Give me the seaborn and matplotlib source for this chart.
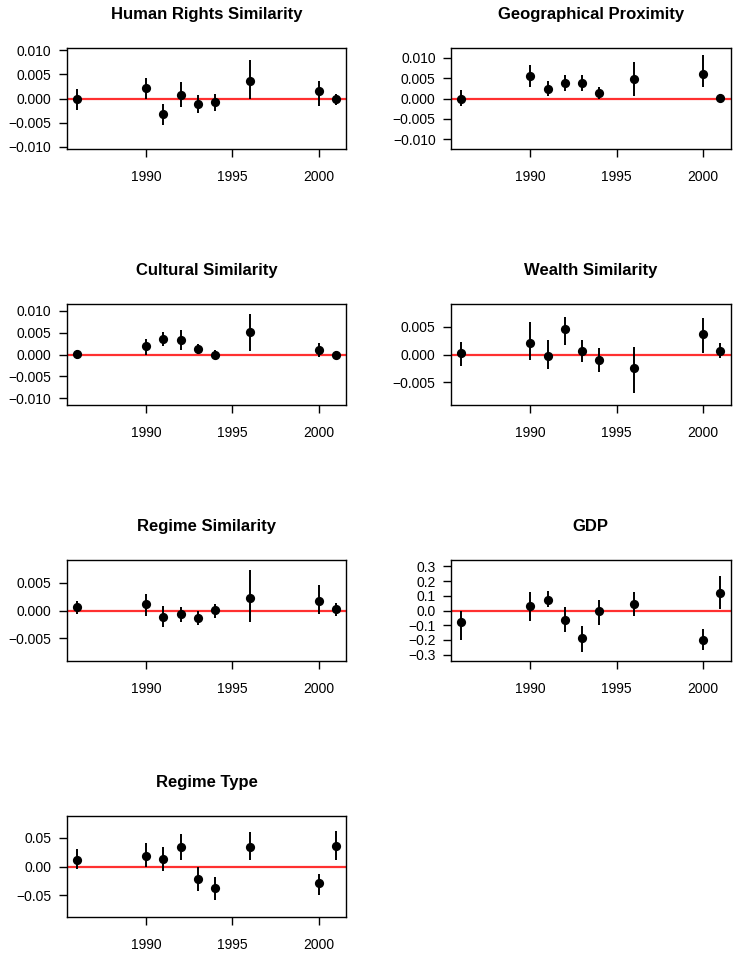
import matplotlib
matplotlib.use("Agg")
import matplotlib.pyplot as plt
import seaborn as sns
import numpy as np
import pandas as pd

years = [1986, 1990, 1991, 1992, 1993, 1994, 1996, 2000, 2001]

titles = ["Human Rights Similarity", "Geographical Proximity", "Cultural Similarity",
          "Wealth Similarity", "Regime Similarity", "GDP", "Regime Type"]

hr_est = [0.0000, 0.0022, -0.0033, 0.0008, -0.0012, -0.0008, 0.0036, 0.0015, -0.0002]
hr_hi = [0.0019, 0.0043, -0.0012, 0.0034, 0.0008, 0.0010, 0.0081, 0.0036, 0.0010]
hr_lo = [-0.0023, 0.0000, -0.0056, -0.0018, -0.0031, -0.0026, -0.0002, -0.0015, -0.0014]

geo_est = [-0.0001, 0.0055, 0.0024, 0.0039, 0.0039, 0.0014, 0.0049, 0.0059, 0.0002]
geo_hi = [0.0020, 0.0082, 0.0044, 0.0057, 0.0058, 0.0029, 0.0090, 0.0106, 0.0010]
geo_lo = [-0.0019, 0.0028, 0.0006, 0.0018, 0.0018, 0.0000, 0.0006, 0.0029, -0.0005]

cul_est = [0.0002, 0.0019, 0.0035, 0.0033, 0.0013, 0.0000, 0.0052, 0.0010, -0.0001]
cul_hi = [0.0011, 0.0035, 0.0052, 0.0056, 0.0024, 0.0011, 0.0093, 0.0026, 0.0009]
cul_lo = [-0.0010, 0.0000, 0.0019, 0.0010, 0.0002, -0.0010, 0.0007, -0.0005, -0.0009]

wea_est = [0.0002, 0.0021, -0.0002, 0.0046, 0.0007, -0.0010, -0.0024, 0.0037, 0.0007]
wea_hi = [0.0023, 0.0059, 0.0026, 0.0068, 0.0027, 0.0012, 0.0013, 0.0066, 0.0021]
wea_lo = [-0.0020, -0.0010, -0.0027, 0.0018, -0.0013, -0.0032, -0.0069, 0.0002, -0.0007]

reg_est = [0.0006, 0.0011, -0.0011, -0.0007, -0.0014, 0.0001, 0.0022, 0.0018, 0.0003]
reg_hi = [0.0017, 0.0030, 0.0008, 0.0007, -0.0001, 0.0012, 0.0073, 0.0046, 0.0013]
reg_lo = [-0.0007, -0.0010, -0.0030, -0.0020, -0.0027, -0.0013, -0.0020, -0.0007, -0.0010]

gdp_est = [-0.080, 0.030, 0.073, -0.064, -0.186, -0.005, 0.043, -0.200, 0.116]
gdp_hi = [0.000, 0.123, 0.134, 0.027, -0.105, 0.073, 0.123, -0.125, 0.232]
gdp_lo = [-0.200, -0.068, 0.023, -0.148, -0.280, -0.098, -0.034, -0.268, 0.009]

rt_est = [0.011, 0.018, 0.0135, 0.033, -0.021, -0.038, 0.034, -0.029, 0.035]
rt_hi = [0.031, 0.040, 0.034, 0.056, 0.000, -0.018, 0.059, -0.013, 0.062]
rt_lo = [-0.005, 0.000, -0.008, 0.011, -0.042, -0.058, 0.012, -0.049, 0.011]

ests = [hr_est, geo_est, cul_est, wea_est, reg_est, gdp_est, rt_est]
his = [hr_hi, geo_hi, cul_hi, wea_hi, reg_hi, gdp_hi, rt_hi]
los = [hr_lo, geo_lo, cul_lo, wea_lo, reg_lo, gdp_lo, rt_lo]

ylims = [0.0105, 0.0124, 0.0116, 0.0091, 0.0091, 0.343, 0.0875]
yticks = [[-0.010, -0.005, 0.0, 0.005, 0.010]] * 3 + [[-0.005, 0.0, 0.005]] * 2 + \
         [[-0.3, -0.2, -0.1, 0.0, 0.1, 0.2, 0.3], [-0.05, 0.0, 0.05]]
ydec = [3, 3, 3, 3, 3, 1, 2]
xticks = [1990, 1995, 2000]

sns.set_theme(style="ticks")
plt.rcParams['font.family'] = ['Liberation Sans', 'DejaVu Sans']
plt.rcParams['text.color'] = 'black'

W, H = 735, 957
fig = plt.figure(figsize=(W / 100, H / 100), dpi=100)

lefts = [66.7, 451.0]
box_w = 279.5
tops = [48, 304, 560, 816]
box_h = 101

for i, title in enumerate(titles):
    r, c = divmod(i, 2)
    ax = fig.add_axes([lefts[c] / W, 1 - (tops[r] + box_h) / H, box_w / W, box_h / H])
    df = pd.DataFrame({"year": years, "est": ests[i], "lo": los[i], "hi": his[i]})
    ax.axhline(0, color="#ff3030", lw=1.6, zorder=1)
    ax.vlines(df["year"], df["lo"], df["hi"], color="black", lw=1.4, zorder=2)
    sns.scatterplot(data=df, x="year", y="est", ax=ax, color="black", s=44,
                    edgecolor="black", linewidth=0, zorder=3, legend=False)
    ax.set_xlim(1985.4, 2001.6)
    ax.set_ylim(-ylims[i], ylims[i])
    ax.set_xticks(xticks)
    ax.set_xticklabels([str(x) for x in xticks])
    ax.set_yticks(yticks[i])
    ax.set_yticklabels([f"{v:.{ydec[i]}f}".replace("-", "\u2212") if abs(v) > 1e-12
                        else f"{0:.{ydec[i]}f}" for v in yticks[i]])
    ax.set_xlabel("")
    ax.set_ylabel("")
    ax.set_title(title, fontsize=12, fontweight="bold", pad=21, color="black")
    for sp in ax.spines.values():
        sp.set_visible(True)
        sp.set_linewidth(1.0)
        sp.set_color("black")
    ax.tick_params(axis="y", length=6, width=1.0, pad=5, labelsize=10,
                   colors="black", labelcolor="black")
    ax.tick_params(axis="x", length=6, width=1.0, pad=9, labelsize=10,
                   colors="black", labelcolor="black")
    ax.set_facecolor("white")

fig.savefig("out.png", dpi=100, facecolor="white")
